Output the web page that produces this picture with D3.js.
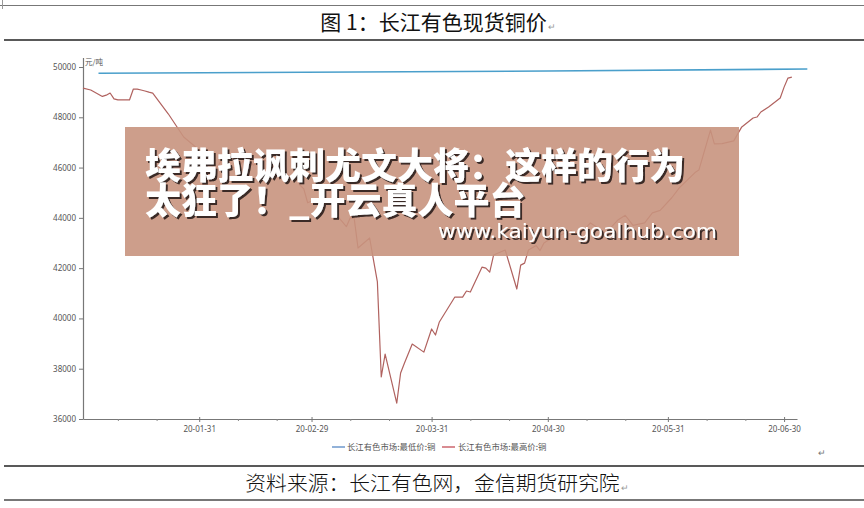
<!DOCTYPE html>
<html><head><meta charset="utf-8">
<script src="https://cdn.jsdelivr.net/npm/d3@7"></script>
<style>
html,body{margin:0;padding:0;background:#fff;}
svg{display:block;}
</style></head>
<body>
<svg id="c" width="864" height="508"></svg>
<script>
// ---------- data ----------
const title = "图 1：长江有色现货铜价";
const source = "资料来源：长江有色网，金信期货研究院";
const unitLabel = "元/吨";
const seriesNames = ["长江有色市场:最低价:铜", "长江有色市场:最高价:铜"];
const yTicks = [36000, 38000, 40000, 42000, 44000, 46000, 48000, 50000];
const xTickLabels = ["2020-01-31", "2020-02-29", "2020-03-31", "2020-04-30", "2020-05-31", "2020-06-30"];
const minorTickDates = ["2020-01-10","2020-01-20","2020-02-10","2020-02-20","2020-03-10","2020-03-20",
  "2020-04-10","2020-04-20","2020-05-10","2020-05-20","2020-06-10","2020-06-20"];

const lowDates = ["2020-01-05", "2020-04-30", "2020-07-06"];
const lowValues = [49750, 49840, 49920];

const highDates = [
 "2020-01-01","2020-01-03","2020-01-06","2020-01-07","2020-01-08","2020-01-09","2020-01-10","2020-01-13",
 "2020-01-14","2020-01-15","2020-01-16","2020-01-17","2020-01-18","2020-01-19","2020-01-23","2020-01-27",
 "2020-01-31","2020-02-03","2020-02-04","2020-02-05","2020-02-06","2020-02-07","2020-02-10","2020-02-11",
 "2020-02-12","2020-02-13","2020-02-14","2020-02-17","2020-02-18","2020-02-19","2020-02-20","2020-02-21",
 "2020-02-24","2020-02-25","2020-02-26","2020-02-27","2020-02-28","2020-03-02","2020-03-03","2020-03-04",
 "2020-03-05","2020-03-06","2020-03-09","2020-03-10","2020-03-11","2020-03-12","2020-03-15","2020-03-16",
 "2020-03-17","2020-03-18","2020-03-19","2020-03-22","2020-03-23","2020-03-24","2020-03-26","2020-03-29",
 "2020-03-31","2020-04-01","2020-04-02","2020-04-06","2020-04-08","2020-04-09","2020-04-10","2020-04-13",
 "2020-04-14","2020-04-15","2020-04-16","2020-04-19","2020-04-22","2020-04-23","2020-04-24","2020-04-25",
 "2020-04-27","2020-04-28","2020-04-29","2020-04-30","2020-05-06","2020-05-08","2020-05-11","2020-05-13",
 "2020-05-15","2020-05-18","2020-05-20","2020-05-22","2020-05-25","2020-05-27","2020-05-29","2020-06-01",
 "2020-06-03","2020-06-05","2020-06-07","2020-06-08","2020-06-11","2020-06-12","2020-06-14","2020-06-17",
 "2020-06-19","2020-06-22","2020-06-23","2020-06-24","2020-06-26","2020-06-29","2020-06-30","2020-07-01",
 "2020-07-02"];
const highValues = [
 49160,49085,48830,48880,48965,48730,48690,48690,
 49125,49120,49085,49045,49000,48960,48140,47215,
 46700,46150,45900,46100,46350,46100,45950,46200,
 46400,46250,46100,46300,46150,46000,46250,46100,
 45500,45600,45300,45150,44600,44800,45250,45350,
 45200,44200,43650,44000,44000,42800,43200,42320,
 41450,37670,38580,36630,37830,38230,38980,38660,
 39580,39340,39860,40850,40850,41090,41050,42040,
 42000,41840,42520,42720,41170,42120,42200,42720,
 42900,42700,43000,43100,43500,43300,43800,43600,
 43400,43900,44100,43700,43800,44200,44300,44800,
 45200,45500,45800,45900,47490,46940,46950,47060,
 47600,47970,48010,48210,48410,48770,49200,49560,
 49600];

const bannerLine1 = "埃弗拉讽刺尤文大将：这样的行为";
const bannerLine2 = "太狂了！_开云真人平台";
const bannerUrl = "www.kaiyun-goalhub.com";

// ---------- drawing ----------
const svg = d3.select("#c");
const parse = d3.timeParse("%Y-%m-%d");
const cjk = "'Noto Sans CJK SC','Noto Sans',sans-serif";

const defs = svg.append("defs");
const flt = defs.append("filter").attr("id","sh").attr("x","-5%").attr("y","-20%").attr("width","110%").attr("height","140%");
flt.append("feDropShadow").attr("dx",2).attr("dy",2).attr("stdDeviation",0.4).attr("flood-color","#3b2b26").attr("flood-opacity",1);

const x = d3.scaleTime()
  .domain([new Date(2020,0,1), new Date(2020,6,3,8)])
  .range([83, 797]);
const y = d3.scaleLinear().domain([36000, 50000]).range([419, 67]);

// page rules
svg.append("line").attr("x1",0).attr("x2",864).attr("y1",5.5).attr("y2",5.5).attr("stroke","#777").attr("stroke-width",1);
svg.append("line").attr("x1",2.5).attr("x2",2.5).attr("y1",0).attr("y2",9).attr("stroke","#999").attr("stroke-width",1);
svg.append("line").attr("x1",4).attr("x2",864).attr("y1",40).attr("y2",40).attr("stroke","#222").attr("stroke-width",1.5);
svg.append("line").attr("x1",4).attr("x2",864).attr("y1",466).attr("y2",466).attr("stroke","#222").attr("stroke-width",1.5);
svg.append("line").attr("x1",4).attr("x2",864).attr("y1",500).attr("y2",500).attr("stroke","#777").attr("stroke-width",2);

// title
const t = svg.append("text").attr("x",438).attr("y",30).attr("text-anchor","middle")
  .attr("font-family",cjk).attr("font-size",21).attr("font-weight",400).attr("fill","#111");
t.append("tspan").text(title);
t.append("tspan").attr("font-size",9).attr("fill","#999").attr("dx",1).text("↵");

// footer
const f = svg.append("text").attr("x",437).attr("y",491).attr("text-anchor","middle")
  .attr("font-family",cjk).attr("font-size",20.8).attr("font-weight",300).attr("fill","#111");
f.append("tspan").text(source);
f.append("tspan").attr("font-size",9).attr("fill","#999").attr("dx",1).text("↵");

svg.append("text").attr("x",818).attr("y",456).attr("font-size",9).attr("fill","#777")
  .attr("font-family",cjk).text("↵");

// y axis
const yAxis = d3.axisLeft(y).tickValues(yTicks).tickSize(4).tickSizeOuter(0).tickFormat(d => d);
const gy = svg.append("g").attr("transform","translate(83,0)").call(yAxis);
gy.select(".domain").remove();
gy.selectAll("line").attr("stroke","#777");
gy.selectAll("text").attr("font-family","'Noto Sans',sans-serif").attr("font-size",8).attr("fill","#555");
svg.append("line").attr("x1",83.5).attr("x2",83.5).attr("y1",58).attr("y2",419.5).attr("stroke","#777").attr("stroke-width",1.2);
svg.append("text").attr("x",85).attr("y",65).attr("font-family",cjk).attr("font-size",7.5).attr("fill","#555").text(unitLabel);

// x axis
const majorDates = xTickLabels.map(parse);
const xAxis = d3.axisBottom(x).tickValues(majorDates).tickSize(3).tickSizeOuter(0).tickFormat(d3.timeFormat("%y-%m-%d"));
const gx = svg.append("g").attr("transform","translate(0,419)").call(xAxis);
gx.select(".domain").attr("stroke","#777").attr("stroke-width",1.2);
gx.selectAll(".tick line").attr("stroke","#777").attr("y1",-2);
gx.selectAll("text").attr("font-family","'Noto Sans',sans-serif").attr("font-size",8).attr("fill","#555").attr("dy","0.9em");
const xMinor = d3.axisBottom(x).tickValues(minorTickDates.map(parse)).tickSize(2).tickFormat("");
const gm = svg.append("g").attr("transform","translate(0,419)").call(xMinor);
gm.select(".domain").remove();
gm.selectAll("line").attr("stroke","#888");

// lines
const lowData = lowDates.map((d,i) => ({date: parse(d), value: lowValues[i]}));
const highData = highDates.map((d,i) => ({date: parse(d), value: highValues[i]}));
const line = d3.line().x(d => x(d.date)).y(d => y(d.value));
svg.append("path").datum(lowData).attr("d",line).attr("fill","none").attr("stroke","#4a9fcb").attr("stroke-width",1.6);
svg.append("path").datum(highData).attr("d",line).attr("fill","none").attr("stroke","#b0625f").attr("stroke-width",1.2).attr("stroke-linejoin","round");

// legend
const legend = svg.append("g").attr("font-family",cjk).attr("font-size",8.4).attr("fill","#555");
legend.append("line").attr("x1",332).attr("x2",345).attr("y1",447).attr("y2",447).attr("stroke","#4a7fc0").attr("stroke-width",1.2);
legend.append("text").attr("x",347).attr("y",450).text(seriesNames[0]);
legend.append("line").attr("x1",442).attr("x2",455).attr("y1",447).attr("y2",447).attr("stroke","#c0404a").attr("stroke-width",1.2);
legend.append("text").attr("x",458).attr("y",450).text(seriesNames[1]);

// overlay banner
svg.append("rect").attr("x",125).attr("y",127).attr("width",614).attr("height",129)
  .attr("fill","rgb(200,148,126)").attr("opacity",0.9);
const bg = svg.append("g").attr("filter","url(#sh)").attr("fill","#fff");
bg.append("text").attr("x",145).attr("y",179).attr("font-family",cjk).attr("font-size",36)
  .attr("font-weight",900).text(bannerLine1);
bg.append("text").attr("x",145).attr("y",214).attr("font-family",cjk).attr("font-size",36)
  .attr("font-weight",900).text(bannerLine2);
bg.append("text").attr("x",438).attr("y",238).attr("font-family","'DejaVu Sans',sans-serif").attr("font-size",20)
  .attr("textLength",279).attr("lengthAdjust","spacingAndGlyphs").text(bannerUrl);
</script>
</body></html>
